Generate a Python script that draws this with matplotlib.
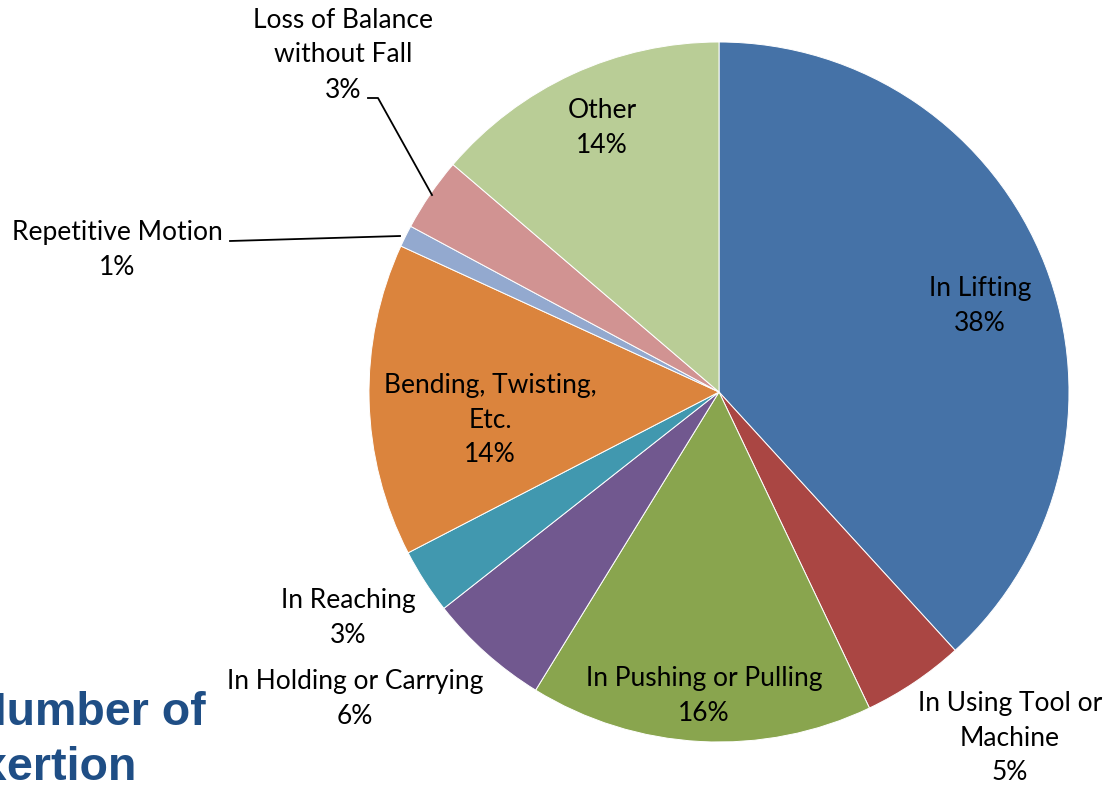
import matplotlib
matplotlib.use("Agg")
import matplotlib.pyplot as plt

# data (share of cases, %)
categories = ["In Lifting", "In Using Tool or\nMachine", "In Pushing or Pulling",
              "In Holding or Carrying", "In Reaching", "Bending, Twisting,\nEtc.",
              "Repetitive Motion", "Loss of Balance\nwithout Fall", "Other"]
shares = [38.1, 4.7, 15.8, 5.6, 3.0, 14.4, 1.0, 3.4, 13.7]
colors = ["#4572A7", "#AA4643", "#89A54E", "#71588F", "#4198AF",
          "#DB843D", "#93A9CF", "#D19392", "#B9CD96"]

# label anchor points in pixel coords (x, y from top)
label_pos = [(980, 306), (1010, 738), (704, 696), (355, 699), (348, 618),
             (490, 420), (117, 250), (343, 55), (602, 128)]

W, H = 1107, 787
fig = plt.figure(figsize=(W / 100, H / 100), dpi=100)
ax = fig.add_axes([0, 0, 1, 1])

cx, cy, r = 719, H - 392, 350
ax.pie(shares, colors=colors, startangle=90, counterclock=False,
       center=(cx, cy), radius=r, frame=True,
       wedgeprops=dict(edgecolor="white", linewidth=0.7))
ax.set_xlim(0, W)
ax.set_ylim(0, H)
ax.set_aspect("equal")
ax.axis("off")

total = sum(shares)
font = dict(family="Lato", fontsize=19, color="black",
            ha="center", va="center", linespacing=1.5)
for name, val, (x, y) in zip(categories, shares, label_pos):
    ax.text(x, H - y, f"{name}\n{round(val / total * 100)}%", **font)

# leader lines for the two thin slices
ax.plot([230, 400], [H - 241, H - 236], color="black", lw=1.3)
ax.plot([368, 378, 432], [H - 98, H - 98, H - 195], color="black", lw=1.3)

# slide title behind the chart, cut off at the left edge
title_kw = dict(family="Liberation Sans", fontsize=33.5, fontweight="bold",
                color="#1F4E85", ha="right", va="baseline")
ax.text(206, H - 725, "Number of", **title_kw)
ax.text(137, H - 780, "Exertion", **title_kw)

fig.savefig("out.png", dpi=100)
